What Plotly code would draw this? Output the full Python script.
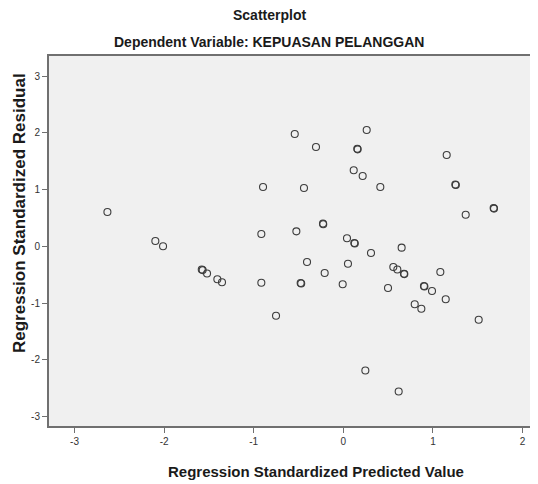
import plotly.graph_objects as go

# Regression Standardized Predicted Value
pred = [-2.633, -2.098, -2.012, -1.580, -1.570, -1.521, -1.406, -1.354,
        -0.542, 0.261, -0.305, 0.156, 0.160, 0.116, 0.216, -0.896, -0.439, 0.413,
        -0.915, -0.524, -0.227, -0.224, 0.041, 0.123, 0.128, 0.309, 0.651,
        -0.405, 0.052, -0.208, 0.558, 0.603, -0.915, -0.476, -0.470, -0.007, 0.499, -0.751,
        1.154, 1.250, 1.256, 1.678, 1.682, 1.366, 0.677, 0.681, 1.083, 0.900, 0.905,
        0.990, 1.143, 0.797, 0.871, 1.511, 0.246, 0.618]
# Regression Standardized Residual
resid = [0.605, 0.093, 0.000, -0.410, -0.420, -0.480, -0.580, -0.635,
         1.980, 2.050, 1.750, 1.720, 1.710, 1.340, 1.240, 1.046, 1.028, 1.046,
         0.217, 0.264, 0.400, 0.390, 0.141, 0.058, 0.050, -0.118, -0.024,
         -0.277, -0.307, -0.470, -0.365, -0.410, -0.642, -0.647, -0.655, -0.670, -0.735, -1.224,
         1.610, 1.090, 1.080, 0.675, 0.665, 0.557, -0.483, -0.490, -0.453, -0.700, -0.710,
         -0.788, -0.935, -1.023, -1.100, -1.294, -2.190, -2.560]

x_ticks = [-3, -2, -1, 0, 1, 2]
x_labels = ["-3", "-2", "-1", "0", "1", "2"]
y_ticks = [-3, -2, -1, 0, 1, 2, 3]
y_labels = ["-3", "-2", "-1", "0", "1", "2", "3"]

FONT = "Liberation Sans, Arial, sans-serif"

# page geometry (page body has an 8px margin)
PLOT_L, PLOT_R, PLOT_T, PLOT_B = 49, 538, 56, 426
PW, PH = PLOT_R - PLOT_L, PLOT_B - PLOT_T


def px(x):
    return (x - PLOT_L) / PW


def py(y):
    return (PLOT_B - y) / PH


fig = go.Figure()
fig.add_trace(go.Scatter(
    x=pred, y=resid, mode="markers",
    marker=dict(symbol="circle-open", size=7, color="#3c3c3c",
                line=dict(width=1.1, color="#3c3c3c")),
    hoverinfo="x+y", showlegend=False,
))

axis_common = dict(showgrid=False, zeroline=False, showline=True,
                   linecolor="#707070", linewidth=2, ticks="outside",
                   ticklen=5, tickcolor="#707070", tickwidth=1,
                   tickfont=dict(family=FONT, size=10, color="#333333"))

fig.update_layout(
    width=530, height=476,
    margin=dict(l=41, r=0, t=48, b=58),
    paper_bgcolor="white", plot_bgcolor="#f0f0f0",
    font=dict(family=FONT),
    xaxis=dict(range=[-3.285, 2.173], tickvals=x_ticks, ticktext=x_labels,
               mirror=True, **axis_common),
    yaxis=dict(range=[-3.169, 3.356], tickvals=y_ticks, ticktext=y_labels,
               **axis_common),
    annotations=[
        dict(text="<b>Scatterplot</b>", xref="paper", yref="paper",
             x=px(269), y=py(15), showarrow=False, yanchor="middle",
             font=dict(size=14, color="#1a1a1a", family=FONT)),
        dict(text="<b>Dependent Variable: KEPUASAN PELANGGAN</b>", xref="paper", yref="paper",
             x=px(269), y=py(42), showarrow=False, yanchor="middle",
             font=dict(size=14, color="#1a1a1a", family=FONT)),
        dict(text="<b>Regression Standardized Predicted Value</b>", xref="paper", yref="paper",
             x=px(316), y=py(471), showarrow=False, yanchor="middle",
             font=dict(size=15, color="#1a1a1a", family=FONT)),
        dict(text="<b>Regression Standardized Residual</b>", xref="paper", yref="paper",
             x=px(19), y=py(213), showarrow=False, textangle=-90,
             xanchor="center", yanchor="middle",
             font=dict(size=17, color="#1a1a1a", family=FONT)),
    ],
)

fig.write_html("out.html")
